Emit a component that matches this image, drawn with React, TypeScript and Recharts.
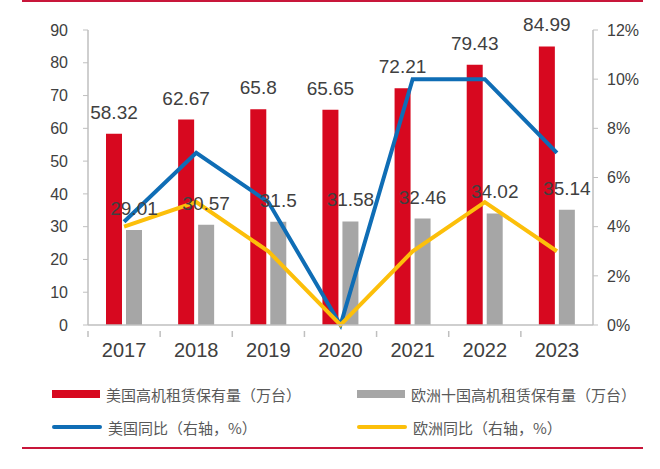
import React from 'react';
import { ComposedChart, Bar, Line, XAxis, YAxis, Legend, LabelList } from 'recharts';

// 年份
const years = ['2017', '2018', '2019', '2020', '2021', '2022', '2023'];
// 美国高机租赁保有量（万台）
const usFleet = [58.32, 62.67, 65.8, 65.65, 72.21, 79.43, 84.99];
// 欧洲十国高机租赁保有量（万台）
const euFleet = [29.01, 30.57, 31.5, 31.58, 32.46, 34.02, 35.14];
// 同比（右轴，%）
const usYoy = [4.2, 7, 5, 0, 10, 10, 7];
const euYoy = [4, 5, 3, 0, 3, 5, 3];

const leftTicks = [0, 10, 20, 30, 40, 50, 60, 70, 80, 90];
const rightTicks = [0, 2, 4, 6, 8, 10, 12];

const RED = '#d7081f';
const GRAY = '#a6a6a6';
const BLUE = '#0f6db5';
const YELLOW = '#fcbf0a';
const AXIS = '#bfbfbf';
const TEXT = '#404040';
const FONT = '"Liberation Sans", Arial, "Noto Sans CJK SC", sans-serif';

const data = years.map((y, i) => ({
    year: y,
    us: usFleet[i],
    eu: euFleet[i],
    usYoy: usYoy[i],
    euYoy: euYoy[i],
}));

// x轴刻度：标签居中，刻度线画在类目边界
const YearTick = (props: any) => {
    const { x, y, payload } = props;
    const half = payload && payload.offset ? payload.offset : 36;
    return (
        <g>
            <line x1={x - half} x2={x - half} y1={y - 12} y2={y - 6} stroke={AXIS} strokeWidth={1.5} />
            <text x={x} y={y} dy="0.71em" textAnchor="middle" fontSize={20} fill={TEXT} fontFamily={FONT}>
                {payload.value}
            </text>
        </g>
    );
};

const legendItems = [
    { label: '美国高机租赁保有量（万台）', color: RED, kind: 'rect', col: 0, row: 0 },
    { label: '欧洲十国高机租赁保有量（万台）', color: GRAY, kind: 'rect', col: 1, row: 0 },
    { label: '美国同比（右轴，%）', color: BLUE, kind: 'line', col: 0, row: 1 },
    { label: '欧洲同比（右轴，%）', color: YELLOW, kind: 'line', col: 1, row: 1 },
];

const ChartLegend = () => (
    <div style={{ position: 'relative', width: 660, height: 80, fontFamily: '"Noto Sans CJK SC", sans-serif' }}>
        {legendItems.map((it) => (
            <div
                key={it.label}
                style={{
                    position: 'absolute',
                    left: it.col === 0 ? 52 : 357,
                    top: it.row === 0 ? 8 : 41,
                    height: 22,
                    display: 'flex',
                    alignItems: 'center',
                    whiteSpace: 'nowrap',
                }}
            >
                {it.kind === 'rect' ? (
                    <span style={{ display: 'inline-block', width: 48, height: 8, background: it.color }} />
                ) : (
                    <span style={{ display: 'inline-block', width: 50, height: 4, borderRadius: 2, background: it.color }} />
                )}
                <span style={{ marginLeft: 6, fontSize: 15, color: '#595959' }}>{it.label}</span>
            </div>
        ))}
    </div>
);

export default function App() {
    return (
        <div style={{ position: 'absolute', left: 0, top: 0, width: 660, height: 469, background: '#fff' }}>
            <div style={{ position: 'absolute', left: 22, top: 0, width: 621, height: 2, background: '#c8163a' }} />
            <ComposedChart
                width={660}
                height={469}
                data={data}
                margin={{ top: 30, right: 7, bottom: 14, left: 28 }}
                barGap={4}
                barSize={16}
                style={{ fontFamily: FONT }}
            >
                <XAxis
                    dataKey="year"
                    height={50}
                    tick={<YearTick />}
                    tickLine={false}
                    tickMargin={12}
                    axisLine={{ stroke: AXIS, strokeWidth: 1.5 }}
                />
                <YAxis
                    yAxisId="left"
                    width={60}
                    domain={[0, 90]}
                    ticks={leftTicks}
                    interval={0}
                    tickSize={5}
                    tickMargin={15}
                    tick={{ fontSize: 16, fill: TEXT }}
                    tickLine={{ stroke: AXIS }}
                    axisLine={{ stroke: AXIS, strokeWidth: 1.5 }}
                />
                <YAxis
                    yAxisId="right"
                    orientation="right"
                    width={60}
                    domain={[0, 12]}
                    ticks={rightTicks}
                    interval={0}
                    tickSize={5}
                    tickMargin={9}
                    tickFormatter={(v: number) => `${v}%`}
                    tick={{ fontSize: 16, fill: TEXT }}
                    tickLine={{ stroke: AXIS }}
                    axisLine={{ stroke: AXIS, strokeWidth: 1.5 }}
                />
                <Legend
                    verticalAlign="bottom"
                    height={80}
                    wrapperStyle={{ left: 0, width: 660 }}
                    content={() => <ChartLegend />}
                />
                <Bar yAxisId="left" dataKey="us" fill={RED} isAnimationActive={false}>
                    <LabelList dataKey="us" position="top" offset={15} fontSize={19} fill={TEXT} />
                </Bar>
                <Bar yAxisId="left" dataKey="eu" fill={GRAY} isAnimationActive={false}>
                    <LabelList dataKey="eu" position="top" offset={15} fontSize={19} fill={TEXT} />
                </Bar>
                <Line
                    yAxisId="right"
                    type="linear"
                    dataKey="usYoy"
                    stroke={BLUE}
                    strokeWidth={4}
                    dot={false}
                    activeDot={false}
                    isAnimationActive={false}
                />
                <Line
                    yAxisId="right"
                    type="linear"
                    dataKey="euYoy"
                    stroke={YELLOW}
                    strokeWidth={4}
                    dot={false}
                    activeDot={false}
                    isAnimationActive={false}
                />
            </ComposedChart>
            <div style={{ position: 'absolute', left: 22, top: 447, width: 621, height: 2, background: '#c8163a' }} />
        </div>
    );
}
